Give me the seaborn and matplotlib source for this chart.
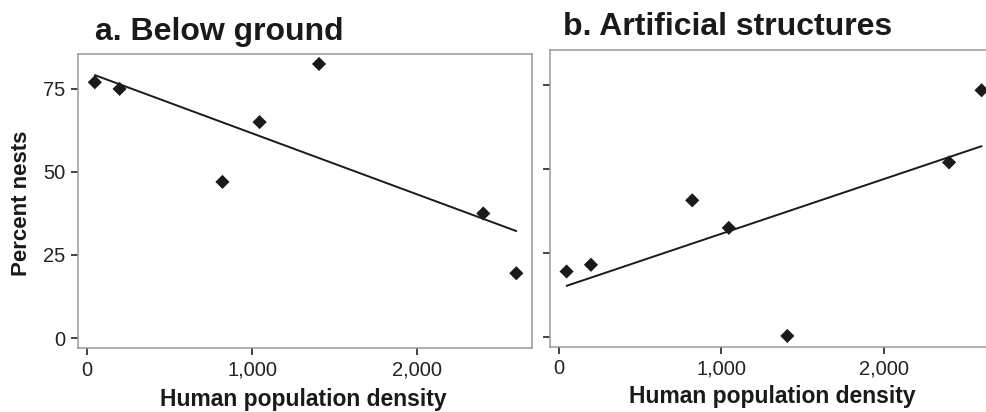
import matplotlib
matplotlib.use("Agg")
import matplotlib.pyplot as plt
import seaborn as sns
import pandas as pd

# Data
density = [47, 197, 820, 1045, 1405, 2400, 2600]
below_ground = [77, 75, 47, 65, 82.5, 37.5, 19.5]
artificial = [19.5, 21.5, 40.7, 32.5, 0.3, 52, 73.5]

panel_titles = ["a. Below ground", "b. Artificial structures"]
x_label = "Human population density"
y_label = "Percent nests"
x_ticks = [0, 1000, 2000]
x_ticklabels = ["0", "1,000", "2,000"]
y_ticks = [0, 25, 50, 75]
y_ticklabels = ["0", "25", "50", "75"]

df = pd.DataFrame({"density": density, "below": below_ground, "artificial": artificial})

sns.set_theme(style="white")
plt.rcParams["font.family"] = ["Liberation Sans", "DejaVu Sans"]

W, H = 987, 412
fig = plt.figure(figsize=(W / 100, H / 100), dpi=100)

def frac(x0, x1, ytop, ybot):
    return [x0 / W, (H - ybot) / H, (x1 - x0) / W, (ybot - ytop) / H]

ax1 = fig.add_axes(frac(78, 532, 54, 348))
ax2 = fig.add_axes(frac(550, 997, 50, 347))

for ax, col in [(ax1, "below"), (ax2, "artificial")]:
    sns.regplot(data=df, x="density", y=col, ax=ax, ci=None, truncate=True,
                marker="D",
                scatter_kws=dict(s=52, color="#1a1a1a", edgecolor="none", alpha=1, zorder=3),
                line_kws=dict(color="#1a1a1a", lw=1.4))
    ax.set_xlim(-55, 2695)
    ax.set_ylim(-3, 85.5)
    ax.set_xticks(x_ticks)
    ax.set_xticklabels(x_ticklabels)
    ax.set_yticks(y_ticks)
    ax.set_xlabel("")
    ax.set_ylabel("")
    for sp in ax.spines.values():
        sp.set_color("#9a9a9a")
        sp.set_linewidth(1.1)
    ax.tick_params(axis="both", which="both", direction="out", length=5, width=1.3,
                   color="#333333", labelcolor="#222222", labelsize=14.5, pad=4,
                   bottom=True, left=True)

ax1.set_yticklabels(y_ticklabels)
ax2.set_yticklabels([])

# Titles
fig.text(95 / W, (H - 40) / H, panel_titles[0], fontsize=23, fontweight="bold",
         color="#1a1a1a", ha="left", va="baseline")
fig.text(563 / W, (H - 35) / H, panel_titles[1], fontsize=23, fontweight="bold",
         color="#1a1a1a", ha="left", va="baseline")

# Axis labels
fig.text(303 / W, (H - 406) / H, x_label, fontsize=16.5, fontweight="bold",
         color="#1a1a1a", ha="center", va="baseline")
fig.text(772 / W, (H - 403) / H, x_label, fontsize=16.5, fontweight="bold",
         color="#1a1a1a", ha="center", va="baseline")
fig.text(22 / W, (H - 203) / H, y_label, fontsize=16, fontweight="bold",
         color="#1a1a1a", ha="center", va="center", rotation=90)

fig.savefig("out.png", dpi=100)
